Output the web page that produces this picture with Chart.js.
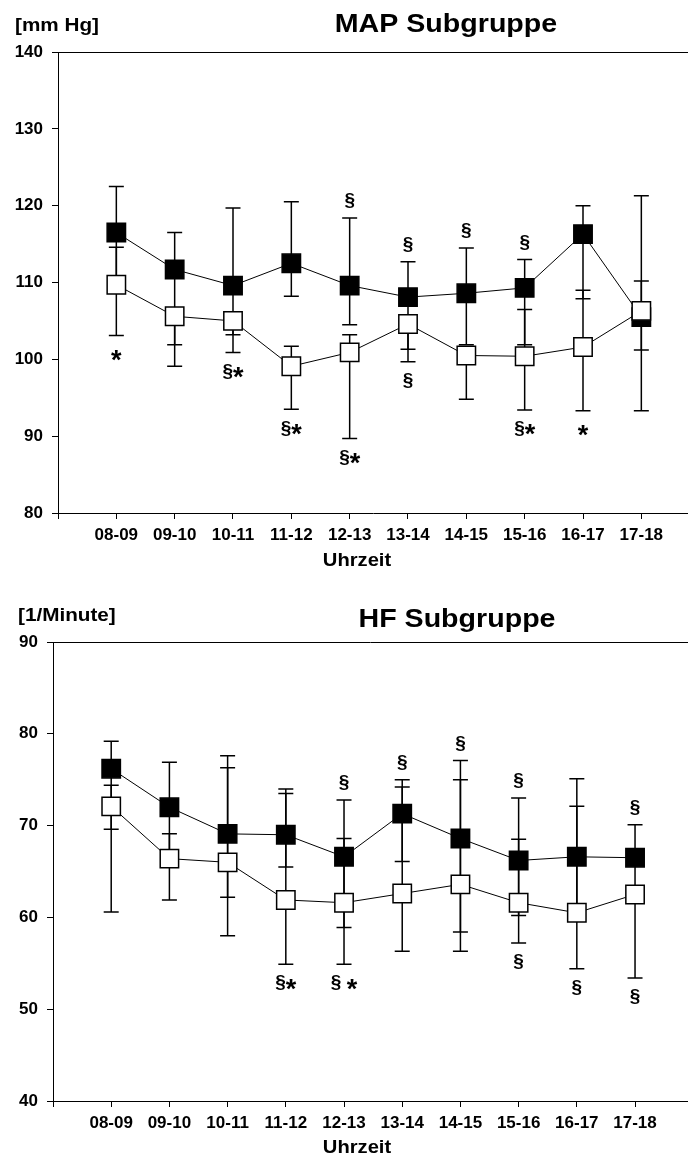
<!DOCTYPE html>
<html>
<head>
<meta charset="utf-8">
<script src="https://cdn.jsdelivr.net/npm/chart.js@4.4.0/dist/chart.umd.min.js"></script>
<style>
  html, body { margin: 0; padding: 0; background: #fff; overflow: hidden; }
  .box { position: relative; width: 688px; }
  #boxMap { height: 580px; }
  #boxHf { height: 577px; }
</style>
</head>
<body>
<div class="box" id="boxMap"><canvas id="chartMap"></canvas></div>
<div class="box" id="boxHf"><canvas id="chartHf"></canvas></div>
<script>
// Uhrzeit-Kategorien
const uhrzeit = ["08-09", "09-10", "10-11", "11-12", "12-13", "13-14", "14-15", "15-16", "16-17", "17-18"];

// MAP [mm Hg] - gefuellte Quadrate
const mapSchwarz = [116.5, 111.7, 109.6, 112.5, 109.6, 108.1, 108.6, 109.3, 116.3, 105.5];
const mapSchwarzOben = [122.5, 116.5, 119.7, 120.5, 118.4, 112.7, 114.5, 113.0, 120.0, 110.2];
const mapSchwarzUnten = [110.5, 101.9, 100.9, 108.2, 104.5, 101.3, 101.9, 101.9, 107.9, 101.2];
// MAP [mm Hg] - offene Quadrate
const mapWeiss = [109.7, 105.6, 105.0, 99.1, 100.9, 104.6, 100.5, 100.4, 101.6, 106.3];
const mapWeissOben = [114.6, null, null, 101.7, 103.2, null, null, 106.5, 109.0, 121.3];
const mapWeissUnten = [103.1, 99.1, 103.2, 93.5, 89.7, 99.7, 94.8, 93.4, 93.3, 93.3];
// Signifikanz-Zeichen
const mapSigOben = ["", "", "", "", "§", "§", "§", "§", "", ""];
const mapSigUnten = ["*", "", "§*", "§*", "§*", "§", "", "§*", "*", ""];
const mapTicks = [80, 90, 100, 110, 120, 130, 140];

// HF [1/Minute] - gefuellte Quadrate
const hfSchwarz = [76.2, 72.0, 69.1, 69.0, 66.6, 71.3, 68.6, 66.2, 66.6, 66.5];
const hfSchwarzOben = [79.2, 76.9, 76.3, 73.5, 72.8, 75.0, 77.1, 73.0, 75.1, 70.1];
const hfSchwarzUnten = [69.6, 67.1, 62.2, 65.5, 58.9, 66.1, 58.4, 60.2, 60.5, 62.5];
// HF [1/Minute] - offene Quadrate
const hfWeiss = [72.1, 66.4, 66.0, 61.9, 61.6, 62.6, 63.6, 61.6, 60.5, 62.5];
const hfWeissOben = [74.4, 69.1, 77.6, 74.0, 68.6, 74.2, 75.0, 68.5, 72.1, null];
const hfWeissUnten = [60.6, 61.9, 58.0, 54.9, 54.9, 56.3, 56.3, 57.2, 54.4, 53.4];
const hfSigOben = ["", "", "", "", "§", "§", "§", "§", "", "§"];
const hfSigUnten = ["", "", "", "§*", "§ *", "", "", "§", "§", "§"];
const hfTicks = [40, 50, 60, 70, 80, 90];

const SCHRIFT = "'Liberation Sans', Arial, sans-serif";

// Text mit leichter horizontaler Dehnung zeichnen
const dehnText = (ctx, text, x, y, size, sx, align) => {
  ctx.save();
  ctx.font = `bold ${size}px ${SCHRIFT}`;
  ctx.fillStyle = "#000";
  ctx.textBaseline = "alphabetic";
  ctx.textAlign = align;
  ctx.translate(x, y);
  ctx.scale(sx, 1);
  ctx.fillText(text, 0, 0);
  ctx.restore();
};

// Fehlerbalken + obere Rahmenlinie
const fehlerBalken = {
  id: "fehlerBalken",
  beforeDatasetsDraw(chart) {
    const { ctx, chartArea } = chart;
    const yScale = chart.scales.y;
    ctx.save();
    ctx.strokeStyle = "#000";
    ctx.lineWidth = 1;
    ctx.beginPath();
    ctx.moveTo(chartArea.left, chartArea.top + 0.5);
    ctx.lineTo(chartArea.right, chartArea.top + 0.5);
    ctx.stroke();
    ctx.lineWidth = 1.5;
    chart.data.datasets.forEach((ds, d) => {
      const meta = chart.getDatasetMeta(d);
      meta.data.forEach((pt, i) => {
        [ds.oben[i], ds.unten[i]].forEach((ende) => {
          if (ende == null) return;
          const ye = yScale.getPixelForValue(ende);
          ctx.beginPath();
          ctx.moveTo(pt.x, pt.y);
          ctx.lineTo(pt.x, ye);
          ctx.moveTo(pt.x - 7.5, ye);
          ctx.lineTo(pt.x + 7.5, ye);
          ctx.stroke();
        });
      });
    });
    ctx.restore();
  },
};

// Signifikanzzeichen ueber / unter den Fehlerbalken
const zeichneSig = (ctx, text, cx, cy) => {
  const fs = 19, fsStern = 27;
  const teile = text.split("").map((c) => ({
    c: c,
    font: c === "*" ? `bold ${fsStern}px ${SCHRIFT}` : `bold ${fs}px ${SCHRIFT}`,
  }));
  let breite = 0;
  teile.forEach((t) => {
    ctx.font = t.font;
    t.w = ctx.measureText(t.c).width;
    breite += t.w;
  });
  let x = cx - breite / 2;
  ctx.textBaseline = "middle";
  ctx.textAlign = "left";
  teile.forEach((t) => {
    ctx.font = t.font;
    const dy = t.c === "*" ? 7 : 0;
    ctx.fillText(t.c, x, cy + dy);
    x += t.w;
  });
};

const signifikanz = {
  id: "signifikanz",
  afterDatasetsDraw(chart, args, opts) {
    const { ctx } = chart;
    const xScale = chart.scales.x;
    const yScale = chart.scales.y;
    const sets = chart.data.datasets;
    ctx.save();
    ctx.fillStyle = "#000";
    uhrzeit.forEach((u, i) => {
      const werte = [];
      sets.forEach((ds) => {
        werte.push(ds.data[i].y);
        if (ds.oben[i] != null) werte.push(ds.oben[i]);
        if (ds.unten[i] != null) werte.push(ds.unten[i]);
      });
      const px = xScale.getPixelForValue(i);
      if (opts.oben[i]) zeichneSig(ctx, opts.oben[i], px, yScale.getPixelForValue(Math.max(...werte)) - 17);
      if (opts.unten[i]) zeichneSig(ctx, opts.unten[i], px, yScale.getPixelForValue(Math.min(...werte)) + 19);
    });
    ctx.restore();
  },
};

const beschriftung = {
  id: "beschriftung",
  afterDraw(chart, args, opts) {
    const { ctx } = chart;
    dehnText(ctx, opts.einheit, opts.einheitX, opts.einheitY, 18, 1.15, "left");
    dehnText(ctx, opts.titel, opts.titelX, opts.titelY, 26, 1.1, "center");
    dehnText(ctx, "Uhrzeit", opts.achseX, opts.achseY, 18, 1.12, "center");
  },
};

const punkte = (werte) => werte.map((v, i) => ({ x: i, y: v }));

const erstelleChart = (id, cfg) => {
  const datensatz = (werte, oben, unten, fuellung, ordnung) => ({
    data: punkte(werte),
    oben: oben,
    unten: unten,
    borderColor: "#000",
    borderWidth: 1,
    pointStyle: "rect",
    pointRadius: 13,
    pointHoverRadius: 13,
    pointBackgroundColor: fuellung,
    pointBorderColor: "#000",
    pointBorderWidth: 1.5,
    tension: 0,
    fill: false,
    order: ordnung,
    clip: false,
  });

  return new Chart(document.getElementById(id), {
    type: "line",
    data: {
      datasets: [
        datensatz(cfg.schwarz, cfg.schwarzOben, cfg.schwarzUnten, "#000", 1),
        datensatz(cfg.weiss, cfg.weissOben, cfg.weissUnten, "#fff", 0),
      ],
    },
    options: {
      responsive: true,
      maintainAspectRatio: false,
      animation: false,
      events: [],
      layout: { autoPadding: false, padding: { top: cfg.oben, left: 0, right: 0, bottom: 0 } },
      plugins: {
        legend: { display: false },
        tooltip: { enabled: false },
        signifikanz: { oben: cfg.sigOben, unten: cfg.sigUnten },
        beschriftung: cfg.text,
      },
      scales: {
        x: {
          type: "linear",
          min: -1,
          max: cfg.xMax,
          afterFit: (scale) => {
            scale.height = cfg.xHoehe;
            scale.paddingLeft = 0;
            scale.paddingRight = 0;
          },
          afterBuildTicks: (scale) => {
            scale.ticks = [-1].concat(uhrzeit.map((u, i) => i)).map((v) => ({ value: v }));
          },
          ticks: {
            autoSkip: false,
            maxRotation: 0,
            padding: 6,
            color: "#000",
            font: { family: SCHRIFT, size: 17, weight: "bold" },
            callback: (v) => (uhrzeit[v] !== undefined ? uhrzeit[v] : ""),
          },
          grid: { drawOnChartArea: false, drawTicks: true, tickLength: 6, color: "#000", lineWidth: 1 },
          border: { display: true, color: "#000", width: 1 },
        },
        y: {
          min: cfg.yTicks[0],
          max: cfg.yTicks[cfg.yTicks.length - 1],
          afterFit: (scale) => {
            scale.width = cfg.yBreite;
            scale.paddingTop = 0;
            scale.paddingBottom = 0;
          },
          afterBuildTicks: (scale) => {
            scale.ticks = cfg.yTicks.map((v) => ({ value: v }));
          },
          ticks: {
            padding: 9,
            color: "#000",
            font: { family: SCHRIFT, size: 17, weight: "bold" },
          },
          grid: { drawOnChartArea: false, drawTicks: true, tickLength: 6, color: "#000", lineWidth: 1 },
          border: { display: true, color: "#000", width: 1 },
        },
      },
    },
    plugins: [fehlerBalken, signifikanz, beschriftung],
  });
};

erstelleChart("chartMap", {
  schwarz: mapSchwarz, schwarzOben: mapSchwarzOben, schwarzUnten: mapSchwarzUnten,
  weiss: mapWeiss, weissOben: mapWeissOben, weissUnten: mapWeissUnten,
  sigOben: mapSigOben, sigUnten: mapSigUnten,
  yTicks: mapTicks,
  oben: 52, xHoehe: 67, yBreite: 58, xMax: 9.8,
  text: { einheit: "[mm Hg]", einheitX: 15, einheitY: 31, titel: "MAP Subgruppe", titelX: 446, titelY: 32, achseX: 357, achseY: 566 },
});

erstelleChart("chartHf", {
  schwarz: hfSchwarz, schwarzOben: hfSchwarzOben, schwarzUnten: hfSchwarzUnten,
  weiss: hfWeiss, weissOben: hfWeissOben, weissUnten: hfWeissUnten,
  sigOben: hfSigOben, sigUnten: hfSigUnten,
  yTicks: hfTicks,
  oben: 62, xHoehe: 56, yBreite: 53, xMax: 9.91,
  text: { einheit: "[1/Minute]", einheitX: 18, einheitY: 41, titel: "HF Subgruppe", titelX: 457, titelY: 47, achseX: 357, achseY: 573 },
});
</script>
</body>
</html>
